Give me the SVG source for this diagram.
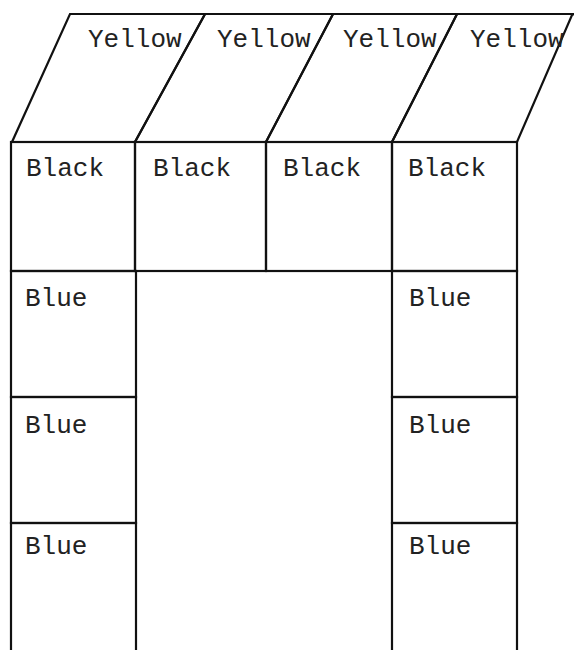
<svg xmlns="http://www.w3.org/2000/svg" width="574" height="650" viewBox="0 0 574 650">
<style>
.c{fill:none;stroke:#111;stroke-width:2.2;stroke-linejoin:miter}
.t{font-family:"Liberation Mono","DejaVu Sans Mono",monospace;font-size:26px;fill:#222}
</style>
<rect width="574" height="650" fill="#fff"/>
<g id="yellow1"><polygon class="c" points="70,14 205,14 135,142 12,142"/><text class="t" x="88" y="47">Yellow</text></g>
<g id="yellow2"><polygon class="c" points="205,14 333,14 266,142 135,142"/><text class="t" x="217" y="47">Yellow</text></g>
<g id="yellow3"><polygon class="c" points="333,14 457,14 392,142 266,142"/><text class="t" x="343" y="47">Yellow</text></g>
<g id="yellow4"><polygon class="c" points="457,14 574,14 572,15 517,142 392,142"/><text class="t" x="470" y="47">Yellow</text></g>
<g id="black1"><rect class="c" x="11" y="142" width="124" height="129"/><text class="t" x="26" y="176">Black</text></g>
<g id="black2"><rect class="c" x="135" y="142" width="131" height="129"/><text class="t" x="153" y="176">Black</text></g>
<g id="black3"><rect class="c" x="266" y="142" width="126" height="129"/><text class="t" x="283" y="176">Black</text></g>
<g id="black4"><rect class="c" x="392" y="142" width="125" height="129"/><text class="t" x="408" y="176">Black</text></g>
<g id="blueL1"><rect class="c" x="11" y="271" width="125" height="126"/><text class="t" x="25" y="306">Blue</text></g>
<g id="blueL2"><rect class="c" x="11" y="397" width="125" height="126"/><text class="t" x="25" y="433">Blue</text></g>
<g id="blueL3"><rect class="c" x="11" y="523" width="125" height="140"/><text class="t" x="25" y="554">Blue</text></g>
<g id="blueR1"><rect class="c" x="392" y="271" width="125" height="126"/><text class="t" x="409" y="306">Blue</text></g>
<g id="blueR2"><rect class="c" x="392" y="397" width="125" height="126"/><text class="t" x="409" y="433">Blue</text></g>
<g id="blueR3"><rect class="c" x="392" y="523" width="125" height="140"/><text class="t" x="409" y="554">Blue</text></g>
<g id="connectors"></g>
</svg>
